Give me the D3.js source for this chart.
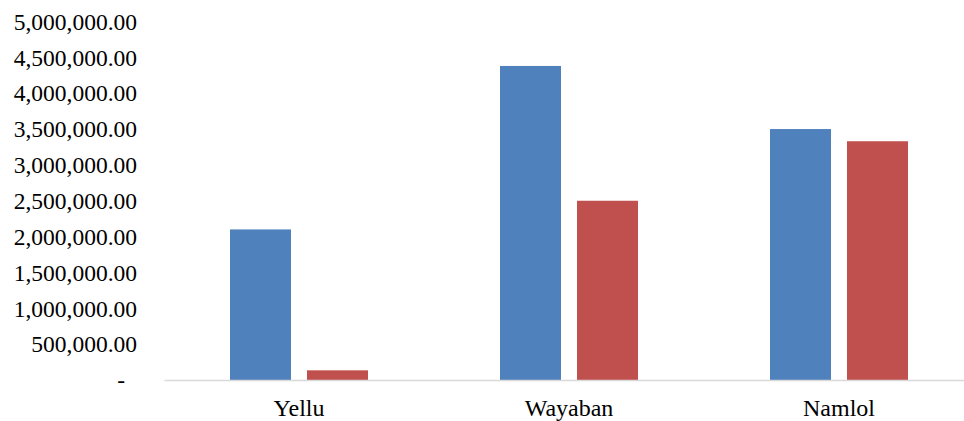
<!DOCTYPE html>
<html>
<head>
<meta charset="utf-8">
<script src="https://cdn.jsdelivr.net/npm/d3@7"></script>
<style>
  body { margin: 0; background: #fff; }
  svg { display: block; }
</style>
</head>
<body>
<svg id="chart" width="964" height="421"></svg>
<script>
const categories = ["Yellu", "Wayaban", "Namlol"];
const seriesNames = ["Series1", "Series2"];
const series1 = [2100000, 4380000, 3500000];
const series2 = [135000, 2500000, 3330000];
const yTicks = [0, 500000, 1000000, 1500000, 2000000, 2500000, 3000000, 3500000, 4000000, 4500000, 5000000];

const colors = { Series1: "#4f81bd", Series2: "#c0504d" };
const serif = "'Liberation Serif', 'Times New Roman', serif";

const svg = d3.select("#chart");

// plot area (the right edge runs past the picture, as in the original)
const plot = { left: 164, right: 974, top: 21.5, bottom: 380 };

const data = categories.map((c, i) => ({ cat: c, Series1: series1[i], Series2: series2[i] }));

const x0 = d3.scaleBand()
    .domain(categories)
    .range([plot.left, plot.right])
    .padding(0);

const groupW = 138;
const x1 = d3.scaleBand()
    .domain(seriesNames)
    .range([0, groupW])
    .paddingInner(0.208)
    .paddingOuter(0);

const y = d3.scaleLinear()
    .domain([0, 5000000])
    .range([plot.bottom, plot.top]);

// y labels (no axis line, no ticks)
const fmt = d3.format(",.2f");
svg.append("g")
    .selectAll("text")
    .data(yTicks)
    .enter()
    .append("text")
    .attr("x", d => d === 0 ? 125 : 137)
    .attr("y", d => y(d))
    .attr("dy", "0.35em")
    .attr("text-anchor", "end")
    .style("font-family", serif)
    .style("font-size", "23.5px")
    .style("fill", "#000")
    .text(d => d === 0 ? "-" : fmt(d));

// bars
svg.append("g")
    .selectAll("g")
    .data(data)
    .enter()
    .append("g")
    .attr("transform", d => `translate(${x0(d.cat) + (x0.bandwidth() - groupW) / 2},0)`)
    .selectAll("rect")
    .data(d => seriesNames.map(k => ({ key: k, value: d[k] })))
    .enter()
    .append("rect")
    .attr("x", d => x1(d.key))
    .attr("y", d => y(d.value))
    .attr("width", x1.bandwidth())
    .attr("height", d => y(0) - y(d.value))
    .attr("fill", d => colors[d.key]);

// category axis
const xAxis = svg.append("g")
    .attr("transform", `translate(0,${plot.bottom})`)
    .call(d3.axisBottom(x0).tickSize(0).tickPadding(19));
xAxis.attr("font-family", null).attr("font-size", null);
xAxis.select(".domain").attr("stroke", "#d9d9d9").attr("stroke-width", 1.5);
xAxis.selectAll("text")
    .style("font-family", serif)
    .style("font-size", "24px")
    .attr("fill", "#000");
</script>
</body>
</html>
